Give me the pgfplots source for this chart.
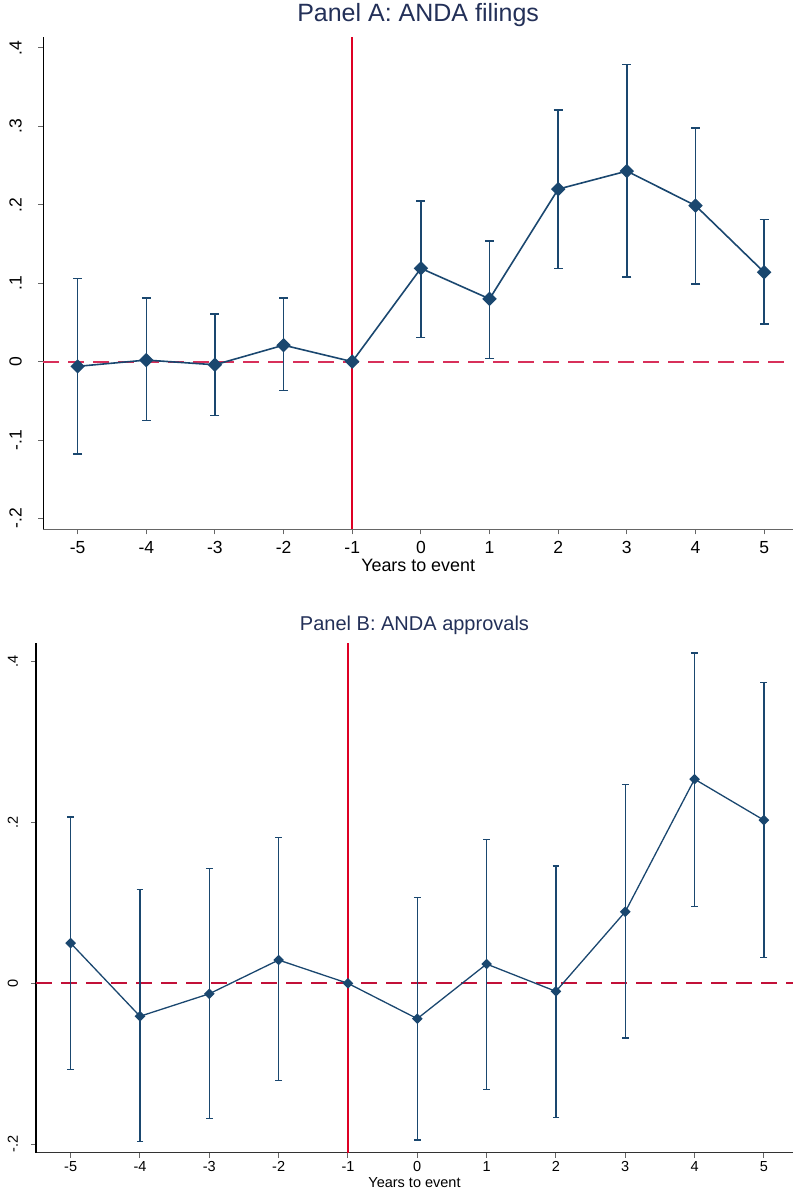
\documentclass[border=0pt]{standalone}
\usepackage{fontspec}
\setmainfont{Liberation Sans}
\usepackage{pgfplots}
\usepackage{pgfplotstable}
\pgfplotsset{compat=1.18}

\definecolor{stnavy}{HTML}{1A476F}
\definecolor{ttl}{HTML}{233058}
\definecolor{vred}{HTML}{DE0024}
\definecolor{zerored}{HTML}{D8305A}
\definecolor{zeromaroon}{HTML}{C21038}

% Panel A: ANDA filings (estimate, upper and lower half-width of the CI)
\pgfplotstableread{
x  y       ep     em
-5 -0.006  0.112  0.112
-4  0.002  0.079  0.077
-3 -0.004  0.065  0.065
-2  0.021  0.060  0.058
-1  0.000  0.000  0.000
 0  0.119  0.086  0.088
 1  0.080  0.074  0.076
 2  0.220  0.101  0.101
 3  0.243  0.136  0.135
 4  0.199  0.099  0.100
 5  0.114  0.067  0.066
}\dataA

% Panel B: ANDA approvals
\pgfplotstableread{
x  y       ep     em
-5  0.050  0.157  0.157
-4 -0.041  0.158  0.156
-3 -0.013  0.156  0.155
-2  0.029  0.152  0.150
-1  0.000  0.000  0.000
 0 -0.044  0.151  0.151
 1  0.024  0.155  0.156
 2 -0.010  0.156  0.157
 3  0.089  0.158  0.157
 4  0.254  0.157  0.158
 5  0.203  0.171  0.171
}\dataB

% zero reference line
\pgfplotstableread{
x     y
-5.5  0
5.42  0
}\zeroline

\pgfplotsset{
  evstudy/.style={
    scale only axis,
    axis x line=bottom, axis y line=left,
    axis line style={-, line width=1.1pt},
    x axis line style={black!60},
    tick align=outside,
    major tick length=5pt,
    tick style={black!60, line width=1pt},
    xmin=-5.5, xmax=5.42,
    xtick={-5,...,5},
    xticklabels={-5,-4,-3,-2,-1,0,1,2,3,4,5},
    yticklabel style={rotate=90, anchor=base},
    xticklabel style={anchor=base},
    enlargelimits=false,
    clip=false,
  },
}

\begin{document}
\begin{tikzpicture}[line cap=butt]
\useasboundingbox (0pt,0pt) rectangle (794pt,1195pt);

% ---------------- Panel A ----------------
\begin{axis}[evstudy,
  at={(43.3pt,665.7pt)}, anchor=south west,
  width=749.7pt, height=492.3pt,
  ymin=-0.2138, ymax=0.414,
  ytick={-0.2,-0.1,0,0.1,0.2,0.3,0.4},
  yticklabels={-.2,-.1,0,.1,.2,.3,.4},
  ticklabel style={font=\fontsize{17.5}{20}\selectfont},
  xticklabel style={yshift=-19pt},
  yticklabel style={yshift=16.6pt},
  title={Panel A: ANDA filings},
  title style={font=\fontsize{25}{28}\selectfont, text=ttl, anchor=base, at={(0.5,1)}, yshift=9pt},
  xlabel={Years to event},
  xlabel style={font=\fontsize{17.9}{20}\selectfont, anchor=base, at={(0.5,0)}, yshift=-42.7pt},
]
\addplot[draw=zerored, line width=2pt, dash pattern=on 16pt off 9pt, mark=none] table[x=x, y=y] {\zeroline};
\addplot[draw=vred, line width=1.7pt, mark=none] coordinates {(-1,-0.2138) (-1,0.414)};
\addplot[draw=stnavy, line width=1.6pt, mark=square*, mark size=4.3pt,
  mark options={rotate=45, fill=stnavy, draw=stnavy, solid},
  error bars/.cd, y dir=both, y explicit,
  error mark=|, error mark options={stnavy, mark size=4.5pt, line width=1.5pt},
  error bar style={line width=1.5pt}]
  table[x=x, y=y, y error plus=ep, y error minus=em] {\dataA};
\end{axis}

% ---------------- Panel B ----------------
\begin{axis}[evstudy,
  at={(36pt,42.3pt)}, anchor=south west,
  width=757pt, height=509.4pt,
  ymin=-0.2107, ymax=0.423,
  ytick={-0.2,0,0.2,0.4},
  yticklabels={-.2,0,.2,.4},
  x axis line style={black!80},
  ticklabel style={font=\fontsize{14.5}{17}\selectfont},
  xticklabel style={yshift=-14pt},
  yticklabel style={yshift=13pt},
  title={Panel B: ANDA approvals},
  title style={font=\fontsize{20}{23}\selectfont, text=ttl, anchor=base, at={(0.5,1)}, yshift=6.6pt},
  xlabel={Years to event},
  xlabel style={font=\fontsize{14.5}{17}\selectfont, anchor=base, at={(0.5,0)}, yshift=-34.6pt},
]
\addplot[draw=zeromaroon, line width=1.7pt, dash pattern=on 16pt off 9pt, mark=none] table[x=x, y=y] {\zeroline};
\addplot[draw=vred, line width=1.5pt, mark=none] coordinates {(-1,-0.2107) (-1,0.423)};
\addplot[draw=stnavy, line width=1.3pt, mark=square*, mark size=3.1pt,
  mark options={rotate=45, fill=stnavy, draw=stnavy, solid},
  error bars/.cd, y dir=both, y explicit,
  error mark=|, error mark options={stnavy, mark size=3.4pt, line width=1.3pt},
  error bar style={line width=1.3pt}]
  table[x=x, y=y, y error plus=ep, y error minus=em] {\dataB};
\end{axis}
\end{tikzpicture}
\end{document}
